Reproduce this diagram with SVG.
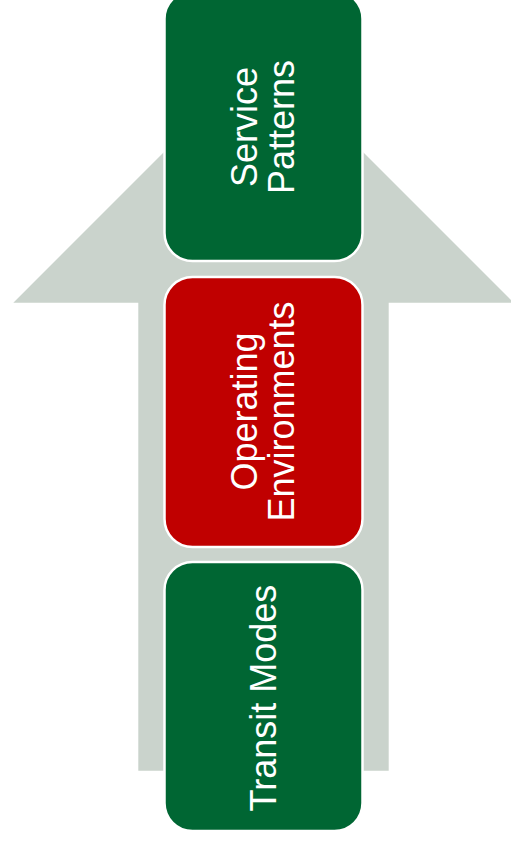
<svg xmlns="http://www.w3.org/2000/svg" width="511" height="846" viewBox="0 0 511 846">
  <style>
    .box { stroke: #ffffff; stroke-width: 2.5; }
    .green { fill: #006633; }
    .red { fill: #c00000; }
    .label { fill: #ffffff; font-family: "Liberation Sans", Arial, sans-serif; font-size: 36px; text-anchor: middle; }
  </style>
  <rect width="511" height="846" fill="#ffffff"/>

  <!-- upward arrow behind the stages -->
  <g id="connectors">
    <polygon points="263.5,52.5 513.7,302.7 388.7,302.7 388.7,770.7 138.3,770.7 138.3,302.7 13.3,302.7" fill="#cad3cc"/>
  </g>

  <g id="service-patterns">
    <rect class="box green" x="164.5" y="-9" width="198" height="270" rx="28" ry="28"/>
    <text class="label" transform="translate(256.5,127) rotate(-90)">Service</text>
    <text class="label" transform="translate(293.5,127) rotate(-90)">Patterns</text>
  </g>

  <g id="operating-environments">
    <rect class="box red" x="164.5" y="277" width="198" height="270" rx="28" ry="28"/>
    <text class="label" transform="translate(257,411.5) rotate(-90)">Operating</text>
    <text class="label" transform="translate(294,411.5) rotate(-90)">Environments</text>
  </g>

  <g id="transit-modes">
    <rect class="box green" x="164.5" y="562" width="198" height="269" rx="28" ry="28"/>
    <text class="label" transform="translate(276,698) rotate(-90)">Transit Modes</text>
  </g>
</svg>
